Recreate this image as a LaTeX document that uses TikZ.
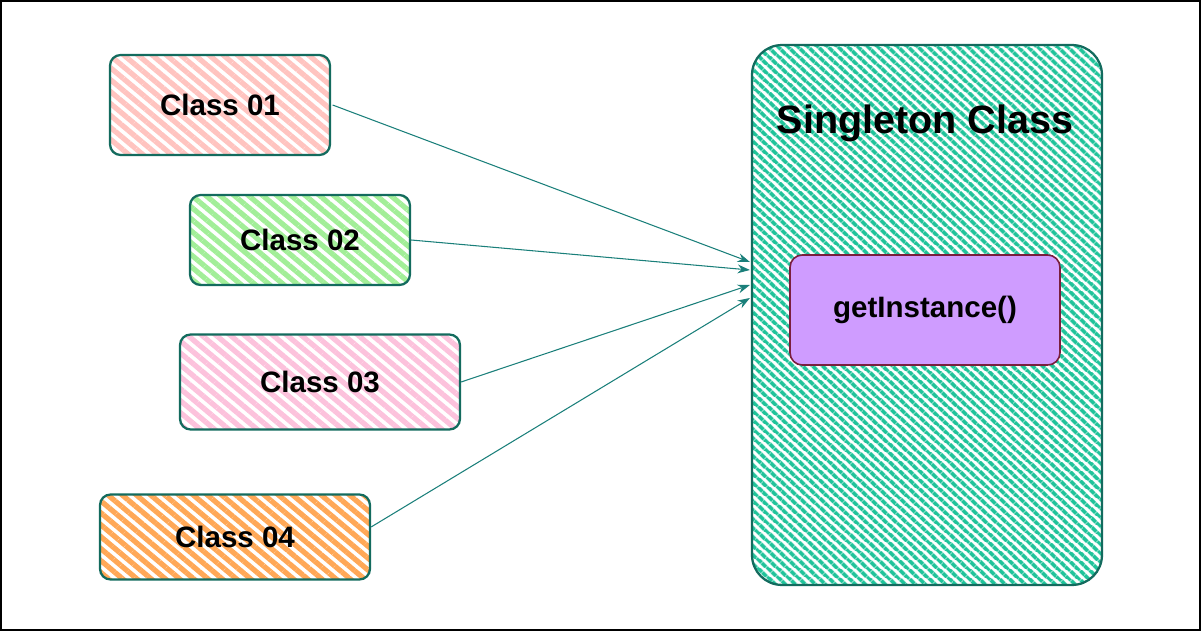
\documentclass[tikz,border=0pt]{standalone}
\usepackage{fontspec}
\setmainfont{Liberation Sans}
\usetikzlibrary{patterns.meta,arrows.meta}

\definecolor{edge}{HTML}{136B5E}
\definecolor{link}{HTML}{1A7F7A}
\definecolor{salmon}{HTML}{FFC4C0}
\definecolor{mint}{HTML}{A2EE98}
\definecolor{rose}{HTML}{FCC2DC}
\definecolor{peach}{HTML}{FFA857}
\definecolor{teal}{HTML}{20C39A}
\definecolor{lilac}{HTML}{CF9CFF}
\definecolor{plum}{HTML}{7A1E3E}

\begin{document}
\begin{tikzpicture}[
		x=0.02cm, y=-0.02cm,
		classbox/.style={rectangle, rounded corners=6pt, draw=edge, line width=1.3pt, align=center,
			font=\bfseries\fontsize{16.8}{20}\selectfont},
		hatch/.style={pattern={Lines[angle=-40,distance=5.2pt,line width=3pt]}, pattern color=#1},
		densehatch/.style={pattern={Lines[angle=-42,distance=4pt,line width=2.4pt]}, pattern color=#1},
		arrow/.style={-{Stealth[length=7pt,width=5pt]}, draw=link, line width=0.6pt}
	]
	\useasboundingbox (0,0) rectangle (1201,631);
	\draw[line width=1.2pt] (0.8,0.8) rectangle (1200.2,630.2);

	% Singleton
	\node[classbox, densehatch=teal, rounded corners=17pt, minimum width=7cm, minimum height=10.8cm] (single) at (927,315) {};
	\node[font=\bfseries\fontsize{22.5}{26}\selectfont] (title) at (925,123) {Singleton Class};
	\node[classbox, draw=plum, line width=0.9pt, fill=lilac, rounded corners=7pt, minimum width=5.4cm, minimum height=2.2cm] (method) at (925,310) {getInstance()};

	% Classes
	\node[classbox, hatch=salmon, minimum width=4.4cm, minimum height=2cm] (class1) at (220,105) {Class 01};
	\node[classbox, hatch=mint, minimum width=4.4cm, minimum height=1.8cm] (class2) at (300,240) {Class 02};
	\node[classbox, hatch=rose, minimum width=5.6cm, minimum height=1.9cm] (class3) at (320,382) {Class 03};
	\node[classbox, hatch=peach, minimum width=5.4cm, minimum height=1.7cm] (class4) at (235,537) {Class 04};

	\draw[arrow] (class1.east) -- ([yshift=1.06cm]single.west);
	\draw[arrow] (class2.east) -- ([yshift=0.9cm]single.west);
	\draw[arrow] (class3.east) -- ([yshift=0.6cm]single.west);
	\draw[arrow] ([yshift=0.2cm]class4.east) -- ([yshift=0.34cm]single.west);

\end{tikzpicture}
\end{document}
